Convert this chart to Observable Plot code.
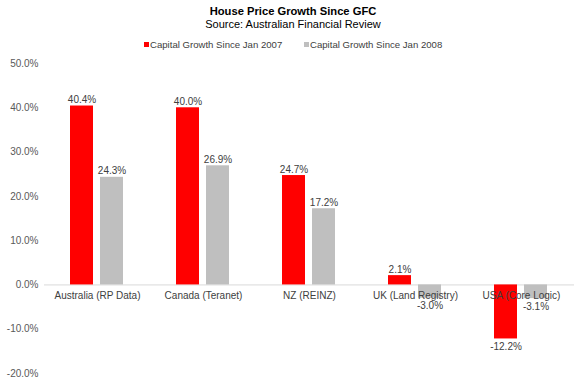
<!DOCTYPE html>
<html>
<head>
<meta charset="utf-8">
<script src="https://cdn.jsdelivr.net/npm/d3@7"></script>
<script src="https://cdn.jsdelivr.net/npm/@observablehq/plot@0.6"></script>
<style>
  html, body { margin: 0; padding: 0; background: #fff; }
  body { width: 586px; height: 383px; overflow: hidden; font-family: "Liberation Sans", Arial, sans-serif; }
  #header { position: relative; height: 50px; width: 586px; }
  #title { position: absolute; top: 5px; left: 0; width: 586px; text-align: center; font-weight: bold; font-size: 11.2px; color: #000; line-height: 13px; }
  #subtitle { position: absolute; top: 18px; left: 0; width: 586px; text-align: center; font-size: 11px; color: #000; line-height: 13px; }
  .leg { position: absolute; top: 39px; font-size: 9.6px; color: #404040; line-height: 12px; white-space: nowrap; }
  .sw { display: inline-block; width: 5px; height: 5px; margin-right: 1px; vertical-align: 1px; }
</style>
</head>
<body>
<div id="header">
  <div id="title">House Price Growth Since GFC</div>
  <div id="subtitle">Source: Australian Financial Review</div>
  <div class="leg" id="leg0" style="left:144px"><span class="sw" style="background:#ff0000"></span>Capital Growth Since Jan 2007</div>
  <div class="leg" id="leg1" style="left:304px"><span class="sw" style="background:#bfbfbf"></span>Capital Growth Since Jan 2008</div>
</div>
<div id="chart"></div>
<script>
const categories = ["Australia (RP Data)", "Canada (Teranet)", "NZ (REINZ)", "UK (Land Registry)", "USA (Core Logic)"];
const seriesNames = ["Capital Growth Since Jan 2007", "Capital Growth Since Jan 2008"];
const growth2007 = [40.4, 40.0, 24.7, 2.1, -12.2];
const growth2008 = [24.3, 26.9, 17.2, -3.0, -3.1];
const yTicks = [-0.2, -0.1, 0, 0.1, 0.2, 0.3, 0.4, 0.5];
const seriesColors = ["#ff0000", "#bfbfbf"];

const data = [];
categories.forEach((c, i) => {
  data.push({cat: c, series: seriesNames[0], value: growth2007[i] / 100});
  data.push({cat: c, series: seriesNames[1], value: growth2008[i] / 100});
});
const locale = d3.formatLocale({decimal: ".", thousands: ",", grouping: [3], currency: ["$", ""], minus: "-"});
const fmt = locale.format(".1%");

const chart = Plot.plot({
  width: 586,
  height: 333,
  marginTop: 13,
  marginBottom: 10,
  marginLeft: 44,
  marginRight: 12,
  style: {fontFamily: "'Liberation Sans', Arial, sans-serif", fontSize: "10px", color: "#404040", background: "#fff"},
  fx: {domain: categories, axis: null, paddingInner: 0, paddingOuter: 0},
  x: {domain: seriesNames, axis: null, paddingInner: 0.218, paddingOuter: 0.835},
  y: {domain: [-0.2, 0.5], ticks: yTicks, tickFormat: fmt, tickSize: 0, tickPadding: 6, label: null},
  color: {domain: seriesNames, range: seriesColors},
  marks: [
    Plot.axisY({ticks: yTicks, tickFormat: fmt, tickSize: 0, tickPadding: 6, label: null, fill: "#595959", fontSize: 10}),
    Plot.ruleY([0], {stroke: "#d9d9d9", strokeWidth: 1}),
    Plot.barY(data, {fx: "cat", x: "series", y: "value", fill: "series"}),
    Plot.text(data.filter(d => d.value >= 0), {fx: "cat", x: "series", y: "value", text: d => fmt(d.value), lineAnchor: "bottom", dy: -3, fill: "#404040", fontSize: 10}),
    Plot.text(data.filter(d => d.value < 0), {fx: "cat", x: "series", y: "value", text: d => fmt(d.value), lineAnchor: "top", dy: 4, fill: "#404040", fontSize: 10}),
    Plot.text(categories, {fx: d => d, y: () => 0, text: d => d, dy: 11, fill: "#404040", fontSize: 10})
  ]
});
document.getElementById("chart").appendChild(chart);
</script>
</body>
</html>
